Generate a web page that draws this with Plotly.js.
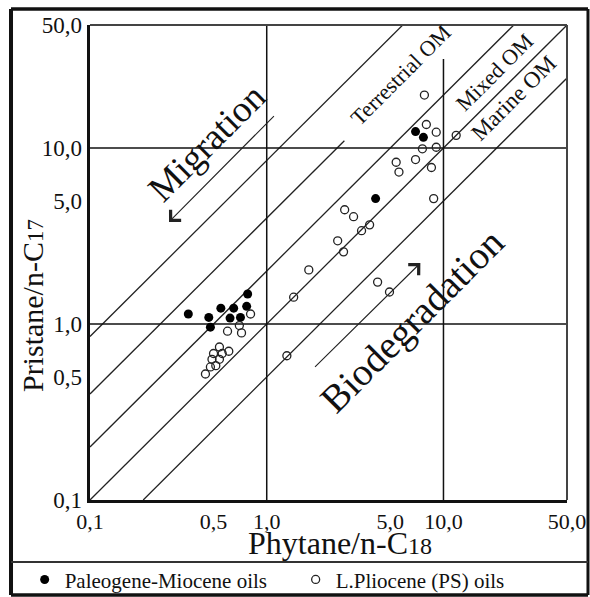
<!DOCTYPE html>
<html><head><meta charset="utf-8">
<script src="https://cdn.plot.ly/plotly-3.0.1.min.js"></script>
<style>html,body{margin:0;padding:0;background:#fff;} #chart{width:590px;height:597px;}</style>
</head><body><div id="chart"></div>
<script>
// Axis ticks (log scale) and their printed labels (comma decimal)
const tickVals = [0.1, 0.5, 1, 5, 10, 50];
const tickText = ['0,1', '0,5', '1,0', '5,0', '10,0', '50,0'];

// Paleogene-Miocene oils (filled dots): Phytane/n-C18, Pristane/n-C17
const paleoPh = [0.36, 0.47, 0.48, 0.55, 0.65, 0.62, 0.71, 0.77, 0.78, 4.13, 6.95, 7.7];
const paleoPr = [1.14, 1.09, 0.96, 1.23, 1.23, 1.08, 1.09, 1.26, 1.48, 5.16, 12.4, 11.5];

// L.Pliocene (PS) oils (open circles)
const plioPh = [7.8, 8.0, 9.1, 11.8, 7.6, 9.1, 6.95, 5.4, 5.6, 8.55, 8.8, 2.76, 3.1, 3.44, 3.82, 2.52, 2.72, 4.24, 4.95, 1.73, 1.42, 1.30,
                0.81, 0.70, 0.60, 0.72, 0.54, 0.50, 0.56, 0.61, 0.49, 0.54, 0.515, 0.48, 0.45];
const plioPr = [20, 13.6, 12.3, 11.8, 9.9, 10.1, 8.6, 8.3, 7.3, 7.75, 5.16, 4.46, 4.07, 3.39, 3.66, 2.97, 2.57, 1.73, 1.52, 2.03, 1.42, 0.66,
                1.14, 0.98, 0.91, 0.89, 0.74, 0.68, 0.68, 0.70, 0.63, 0.63, 0.58, 0.57, 0.52];

// Pristane/Phytane reference lines (Pr/n-C17 = ratio * Ph/n-C18) and their drawn extent on the x axis
const ratios = [8.5, 4, 2, 1, 0.5];
const lineStartPh = [0.1, 0.1, 0.1, 0.1, 0.2];
const lineEndPh = [5.88, 2.75, 25, 50, 50];

// Grid lines at the decades
const gridX = [1, 10];
const gridXTop = [50, 32];
const gridY = [1, 10];

// Process arrows (tail -> head), in data units
const migrationArrow = {tailPh: 1.12, tailPr: 15.5, headPh: 0.28, headPr: 3.8};
const biodegArrow = {tailPh: 1.84, tailPr: 0.56, headPh: 7.4, headPr: 2.22};

const INK = '#111';
const traces = [];

ratios.forEach((r, i) => {
  traces.push({
    x: [lineStartPh[i], lineEndPh[i]],
    y: [r * lineStartPh[i], r * lineEndPh[i]],
    mode: 'lines', line: {color: '#222', width: 1.3},
    showlegend: false, hoverinfo: 'skip'
  });
});
gridX.forEach((gx, i) => {
  traces.push({x: [gx, gx], y: [0.1, gridXTop[i]], mode: 'lines',
    line: {color: INK, width: 1.5}, showlegend: false, hoverinfo: 'skip'});
});
gridY.forEach(gy => {
  traces.push({x: [0.1, 50], y: [gy, gy], mode: 'lines',
    line: {color: INK, width: 1.5}, showlegend: false, hoverinfo: 'skip'});
});

traces.push({
  x: paleoPh, y: paleoPr, mode: 'markers', name: 'Paleogene-Miocene oils',
  marker: {symbol: 'circle', size: 9, color: '#000'}
});
traces.push({
  x: plioPh, y: plioPr, mode: 'markers', name: 'L.Pliocene (PS) oils',
  marker: {symbol: 'circle-open', size: 8, color: '#222', line: {width: 1.3, color: '#222'}}
});

const L = Math.log10;
const fontFam = '"Liberation Serif", "Times New Roman", serif';

function arrowAnn(a) {
  return {x: L(a.headPh), y: L(a.headPr), ax: L(a.tailPh), ay: L(a.tailPr),
    xref: 'x', yref: 'y', axref: 'x', ayref: 'y', text: '', showarrow: true,
    arrowhead: 4, arrowsize: 2.6, arrowwidth: 1.1, arrowcolor: '#222'};
}
function label(text, x, y, size, angle) {
  return {text: text, x: x, y: y, xref: 'paper', yref: 'paper', showarrow: false,
    textangle: angle, font: {family: fontFam, size: size, color: INK},
    xanchor: 'center', yanchor: 'middle'};
}
function pline(x0, y0, x1, y1, w, c) {
  return {type: 'line', xref: 'paper', yref: 'paper', x0: x0, y0: y0, x1: x1, y1: y1,
    line: {color: c, width: w}};
}

const FL = -0.1656, FR = 1.044, FB = -0.2, FT = 1.0337;

const layout = {
  width: 590, height: 597,
  margin: {l: 90, r: 23, t: 25, b: 97, autoexpand: false},
  paper_bgcolor: '#fff', plot_bgcolor: '#fff',
  font: {family: fontFam, color: INK, size: 23},
  xaxis: {type: 'log', range: [L(0.1), L(50)], tickvals: tickVals, ticktext: tickText,
    showgrid: false, zeroline: false, showline: true, linewidth: 3, linecolor: INK,
    ticks: '', ticklen: 0, tickfont: {family: fontFam, size: 22, color: INK}, fixedrange: true},
  yaxis: {type: 'log', range: [L(0.1), L(50)], tickvals: tickVals, ticktext: tickText,
    showgrid: false, zeroline: false, showline: true, linewidth: 3.5, linecolor: INK,
    ticks: '', ticklen: 0, tickfont: {family: fontFam, size: 23, color: INK}, fixedrange: true},
  showlegend: true,
  legend: {orientation: 'h', x: -0.137, xanchor: 'left', y: -0.168, yanchor: 'middle',
    font: {family: fontFam, size: 21, color: INK}, bgcolor: 'rgba(0,0,0,0)',
    entrywidth: 226, entrywidthmode: 'pixels'},
  shapes: [
    pline(FL, FB, FR, FB, 3.5, INK),
    pline(FL, FT, FR, FT, 3.5, INK),
    pline(FL, FB, FL, FT, 4, INK),
    pline(FR, FB, FR, FT, 3, INK),
    pline(FL, -0.1305, FR, -0.1305, 2, '#333'),
    pline(0, 1, 1, 1, 2, '#444'),
    pline(1, 0, 1, 1, 2, '#444')
  ],
  annotations: [
    arrowAnn(migrationArrow),
    arrowAnn(biodegArrow),
    label('Migration', 0.2453, 0.7516, 37, -45),
    label('Biodegradation', 0.675, 0.3768, 39, -45),
    label('Terrestrial OM', 0.65, 0.8947, 22, -45),
    label('Mixed OM', 0.847, 0.901, 22, -45),
    label('Marine OM', 0.887, 0.846, 23, -45),
    label('Phytane/n-C<span style="font-size:24px">18</span>', 0.524, -0.091, 32, 0),
    label('Pristane/n-C<span style="font-size:23px">17</span>', -0.122, 0.41, 30, -90)
  ]
};

Plotly.newPlot('chart', traces, layout, {displayModeBar: false, staticPlot: true});
</script>
</body></html>
